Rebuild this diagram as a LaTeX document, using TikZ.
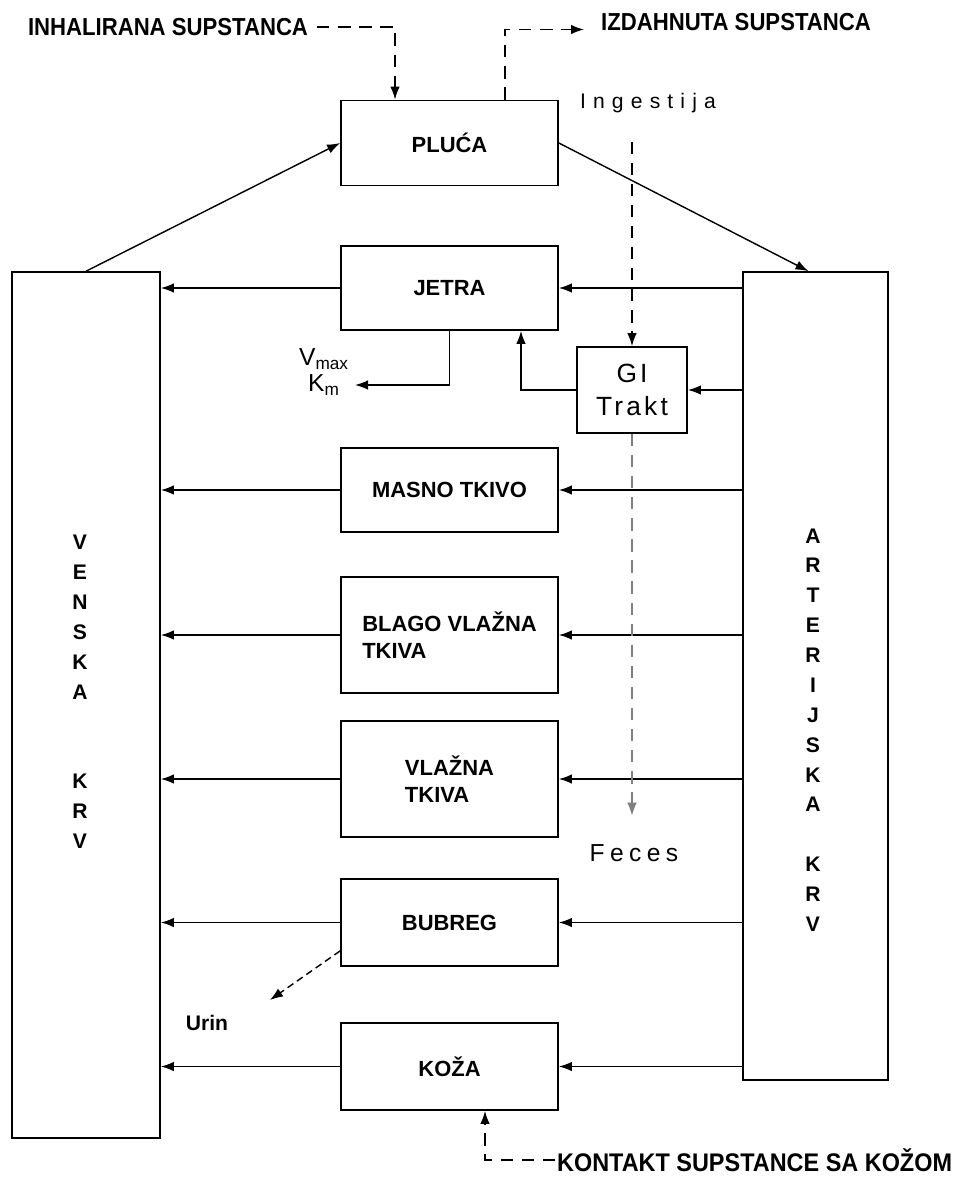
\documentclass[tikz,border=0pt]{standalone}
\usepackage{fontspec}
\setmainfont{Liberation Sans}
\usetikzlibrary{arrows.meta, positioning}

\begin{document}
\begin{tikzpicture}[x=0.02cm, y=-0.02cm, >={Latex[length=2.6mm,width=1.9mm]},
        organ/.style={draw, line width=1pt, minimum width=4.34cm, minimum height=1.7cm,
                      font=\bfseries\fontsize{12.5}{15}\selectfont},
        blood/.style={draw, line width=1pt},
        lbl/.style={font=\bfseries\fontsize{14}{15}\selectfont\addfontfeature{FakeStretch=0.9}, inner sep=1pt},
        column/.style={font=\bfseries\fontsize{12}{17}\selectfont, align=center, inner sep=0pt},
        flow/.style={->, line width=0.8pt},
        dflow/.style={->, line width=0.8pt, dash pattern=on 7pt off 5pt}]
        \useasboundingbox (0,0) rectangle (970,1180);

        % organi
        \node[organ] (pluca)  at (449.5,143)  {PLUĆA};
        \node[organ, minimum height=1.68cm] (jetra)  at (449.5,288)  {JETRA};
        \node[organ, minimum height=1.68cm] (masno)  at (449.5,490)  {MASNO TKIVO};
        \node[organ, minimum height=2.32cm, align=left] (blago)  at (449.5,635)  {BLAGO VLAŽNA\\TKIVA};
        \node[organ, minimum height=2.32cm, align=left] (vlazna) at (449.5,779)  {VLAŽNA\\TKIVA};
        \node[organ, minimum height=1.74cm] (bubreg) at (449.5,922.5) {BUBREG};
        \node[organ, minimum height=1.74cm] (koza)   at (449.5,1066.5) {KOŽA};
        \node[draw, line width=1pt, minimum width=2.2cm, minimum height=1.72cm, align=center,
              font=\fontsize{15}{19}\selectfont\addfontfeature{LetterSpace=12}] (gi) at (632,390) {GI\\Trakt};

        % krv
        \node[blood, minimum width=2.96cm, minimum height=17.32cm] (ven) at (86,705) {};
        \node[blood, minimum width=2.9cm, minimum height=16.16cm]  (art) at (815.5,676) {};
        \node[column] (venlbl) at (80,692) {V\\E\\N\\S\\K\\A\\[34pt]K\\R\\V};
        \node[column] (artlbl) at (813,730) {A\\R\\T\\E\\R\\I\\J\\S\\K\\A\\[17pt]K\\R\\V};

        % natpisi
        \node[lbl] (inh) at (168,27) {INHALIRANA SUPSTANCA};
        \node[lbl] (izd) at (736,22) {IZDAHNUTA SUPSTANCA};
        \node[lbl, font=\bfseries\fontsize{14.5}{15}\selectfont\addfontfeature{FakeStretch=0.92}, anchor=west] (kon) at (555,1160) {KONTAKT SUPSTANCE SA KOŽOM};
        \node[font=\fontsize{12}{14}\selectfont\addfontfeature{LetterSpace=34}] (ing) at (648,103) {Ingestija};
        \node[font=\fontsize{14}{16}\selectfont\addfontfeature{LetterSpace=22}] (feces) at (634,853) {Feces};
        \node[lbl, font=\bfseries\fontsize{12}{14}\selectfont] (urin) at (207,1023) {Urin};
        \node[font=\fontsize{14}{15}\selectfont, align=center] (vmax) at (324,372) {V\textsubscript{max}\\K\textsubscript{m}};
        \coordinate (vmend) at (355,385);
        \coordinate (urend) at (270,1000);

        % pluca
        \draw[flow] (ven.north) -- (pluca.west);
        \draw[flow] (pluca.east) -- ([xshift=-0.14cm]art.north);
        \draw[dflow, shorten <=4pt] (inh.east) -| ([xshift=-1.09cm]pluca.north);
        \draw[dflow] ([xshift=1.11cm]pluca.north) |- ([xshift=-0.3cm,yshift=-0.15cm]izd.west);

        % arterijska krv -> organi -> venska krv
        \draw[flow] (art.west |- jetra.east) -- (jetra.east);
        \draw[flow] (jetra.west) -- (ven.east |- jetra.west);
        \draw[flow] (art.west |- masno.east) -- (masno.east);
        \draw[flow] (masno.west) -- (ven.east |- masno.west);
        \draw[flow] (art.west |- blago.east) -- (blago.east);
        \draw[flow] (blago.west) -- (ven.east |- blago.west);
        \draw[flow] (art.west |- vlazna.east) -- (vlazna.east);
        \draw[flow] (vlazna.west) -- (ven.east |- vlazna.west);
        \draw[flow] (art.west |- bubreg.east) -- (bubreg.east);
        \draw[flow] (bubreg.west) -- (ven.east |- bubreg.west);
        \draw[flow] (art.west |- koza.east) -- (koza.east);
        \draw[flow] (koza.west) -- (ven.east |- koza.west);

        % jetra i GI trakt
        \draw[flow] (jetra.south) |- (vmend);
        \draw[flow] (art.west |- gi.east) -- (gi.east);
        \draw[flow] (gi.west) -| ([xshift=1.43cm]jetra.south);
        \draw[dflow] ([yshift=-0.45cm]ing.south -| gi.north) -- (gi.north);
        \draw[dflow, gray] (gi.south) -- ([yshift=0.45cm]feces.north -| gi.south);

        % izlucivanje i koza
        \draw[->, line width=0.8pt, dash pattern=on 4pt off 2.5pt] ([yshift=0.32cm]bubreg.south west) -- (urend);
        \draw[dflow] (kon.west) -| ([xshift=0.71cm]koza.south);
\end{tikzpicture}
\end{document}
